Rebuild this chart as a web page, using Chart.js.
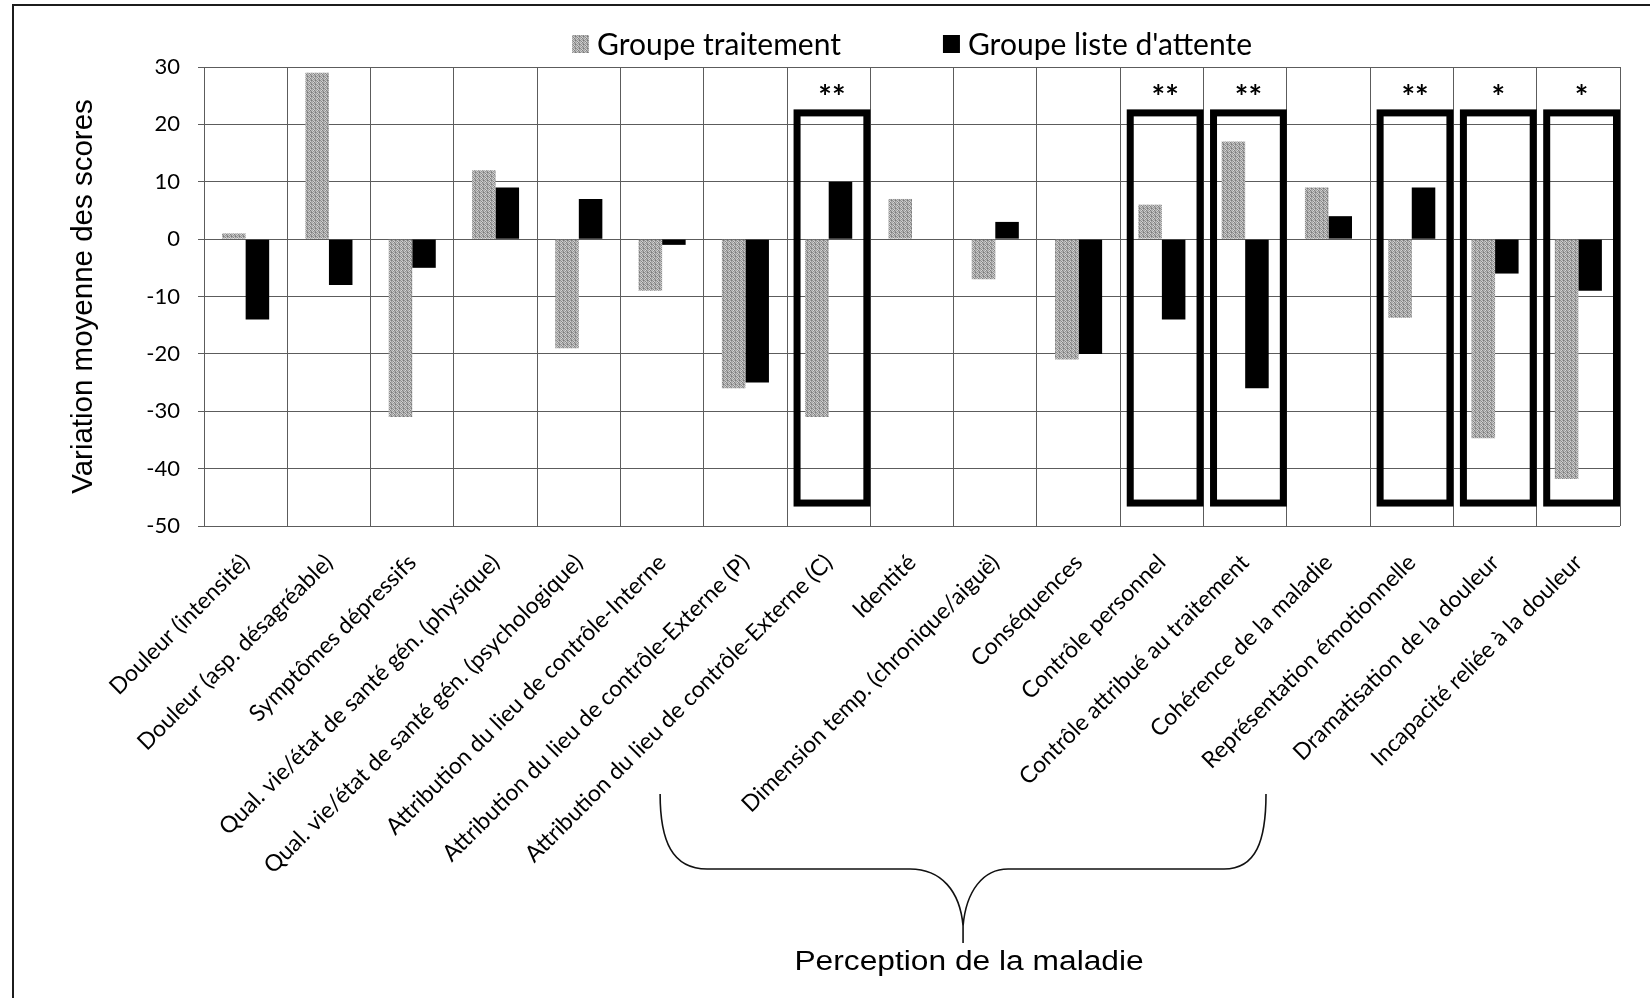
<!DOCTYPE html>
<html>
<head>
<meta charset="utf-8">
<script src="https://cdn.jsdelivr.net/npm/chart.js@4/dist/chart.umd.min.js"></script>
<style>
  html, body { margin: 0; padding: 0; background: #fff; }
  #wrap { width: 1650px; height: 998px; }
</style>
</head>
<body>
<div id="wrap"><canvas id="chart" width="1650" height="998"></canvas></div>
<script>
// Mean score change per measure, for both groups
const categories = [
  'Douleur (intensité)',
  'Douleur (asp. désagréable)',
  'Symptômes dépressifs',
  'Qual. vie/état de santé gén. (physique)',
  'Qual. vie/état de santé gén. (psychologique)',
  'Attribution du lieu de contrôle-Interne',
  'Attribution du lieu de contrôle-Externe (P)',
  'Attribution du lieu de contrôle-Externe (C)',
  'Identité',
  'Dimension temp. (chronique/aiguë)',
  'Conséquences',
  'Contrôle personnel',
  'Contrôle attribué au traitement',
  'Cohérence de la maladie',
  'Représentation émotionnelle',
  'Dramatisation de la douleur',
  'Incapacité reliée à la douleur'
];
const groupeTraitement = [1, 29, -31, 12, -19, -9, -26, -31, 7, -7, -21, 6, 17, 9, -13.7, -34.7, -41.8];
const groupeListeAttente = [-14, -8, -5, 9, 7, -1, -25, 10, 0, 3, -20, -14, -26, 4, 9, -6, -9];
const significance = ['', '', '', '', '', '', '', '**', '', '', '', '**', '**', '', '**', '*', '*'];
const yTickValues = [30, 20, 10, 0, -10, -20, -30, -40, -50];
const seriesNames = ['Groupe traitement', "Groupe liste d'attente"];
const yAxisTitle = 'Variation moyenne des scores';
const groupLabel = 'Perception de la maladie';

// stippled grey fill for the treatment bars
function stipplePattern() {
  const p = document.createElement('canvas');
  p.width = 4; p.height = 4;
  const g = p.getContext('2d');
  const shades = [
    [146, 200, 168, 124],
    [188, 134, 210, 156],
    [164, 214, 128, 182],
    [204, 152, 178, 138]
  ];
  for (let r = 0; r < 4; r++) {
    for (let c = 0; c < 4; c++) {
      const v = shades[r][c];
      g.fillStyle = `rgb(${v},${v},${v})`;
      g.fillRect(c, r, 1, 1);
    }
  }
  return p;
}

const canvas = document.getElementById('chart');
const ctx0 = canvas.getContext('2d');
const greyFill = ctx0.createPattern(stipplePattern(), 'repeat');

const gridColor = '#5c5c5c';

const decor = {
  id: 'decor',
  beforeDraw(chart) {
    const { ctx, width, height } = chart;
    ctx.save();
    ctx.fillStyle = '#fff';
    ctx.fillRect(0, 0, width, height);
    ctx.strokeStyle = '#1c1c1c';
    ctx.lineWidth = 2;
    ctx.beginPath();
    ctx.moveTo(13, height);
    ctx.lineTo(13, 5);
    ctx.lineTo(width, 5);
    ctx.stroke();
    ctx.restore();
  },
  afterDatasetsDraw(chart) {
    const { ctx, scales: { x, y } } = chart;
    const slot = x.width / categories.length;
    const starSize = 32;
    ctx.save();
    significance.forEach((mark, i) => {
      if (!mark) return;
      const c = x.getPixelForValue(i);
      const left = c - slot / 2 + 10;
      const right = c + slot / 2 - 3.5;
      const top = y.getPixelForValue(22);
      const bottom = y.getPixelForValue(-46);
      ctx.lineWidth = 7;
      ctx.strokeStyle = '#000';
      ctx.strokeRect(left, top, right - left, bottom - top);
      ctx.font = `bold ${starSize}px Lato`;
      ctx.textAlign = 'center';
      ctx.textBaseline = 'alphabetic';
      ctx.fillStyle = '#000';
      ctx.fillText(mark, (left + right) / 2, y.getPixelForValue(26) + 0.58 * starSize);
    });
    ctx.restore();
  },
  afterDraw(chart) {
    const { ctx, chartArea, scales: { x, y } } = chart;
    ctx.save();

    // legend row
    ctx.font = '30px Lato';
    const items = chart.data.datasets.map(ds => ({
      label: ds.label,
      fill: ds.backgroundColor,
      w: ctx.measureText(ds.label).width
    }));
    const box = 17, gap = 8, between = 102;
    const total = items.reduce((s, it) => s + box + gap + it.w, 0) + between * (items.length - 1);
    let lx = (chartArea.left + chartArea.right) / 2 - total / 2;
    const ly = 44;
    items.forEach(it => {
      ctx.fillStyle = it.fill;
      ctx.fillRect(lx, ly - 9, box, 18);
      ctx.fillStyle = '#000';
      ctx.textAlign = 'left';
      ctx.textBaseline = 'middle';
      ctx.fillText(it.label, lx + box + gap, ly + 1);
      lx += box + gap + it.w + between;
    });

    // brace grouping the illness-perception measures
    const xL = x.getPixelForValue(5) - 2;
    const xR = x.getPixelForValue(12.25);
    const xM = (xL + xR) / 2;
    const b = y.bottom;
    const yTop = b + 268, yMid = b + 343, yTip = b + 400, yEnd = b + 417;
    ctx.strokeStyle = '#111';
    ctx.lineWidth = 1.6;
    ctx.beginPath();
    ctx.moveTo(xL, yTop);
    ctx.bezierCurveTo(xL, yMid - 28, xL + 12, yMid, xL + 47, yMid);
    ctx.lineTo(xM - 53, yMid);
    ctx.bezierCurveTo(xM - 22, yMid, xM - 3, yMid + 22, xM, yTip);
    ctx.bezierCurveTo(xM + 3, yMid + 22, xM + 20, yMid, xM + 45, yMid);
    ctx.lineTo(xR - 42, yMid);
    ctx.bezierCurveTo(xR - 10, yMid, xR, yMid - 28, xR, yTop);
    ctx.moveTo(xM, yTip);
    ctx.lineTo(xM, yEnd);
    ctx.stroke();

    ctx.fillStyle = '#000';
    ctx.font = '27px "Liberation Sans"';
    ctx.textAlign = 'center';
    ctx.textBaseline = 'alphabetic';
    ctx.translate(xM + 6, b + 444);
    ctx.scale(1.175, 1);
    ctx.fillText(groupLabel, 0, 0);
    ctx.restore();
  }
};

new Chart(canvas, {
  type: 'bar',
  data: {
    labels: categories,
    datasets: [
      { label: seriesNames[0], data: groupeTraitement, backgroundColor: greyFill, borderWidth: 0 },
      { label: seriesNames[1], data: groupeListeAttente, backgroundColor: '#000', borderWidth: 0 }
    ]
  },
  options: {
    responsive: false,
    devicePixelRatio: 1,
    animation: false,
    layout: { padding: { top: 67, left: 0, right: 30, bottom: 0 } },
    datasets: { bar: { categoryPercentage: 0.565, barPercentage: 1 } },
    plugins: {
      legend: { display: false },
      tooltip: { enabled: false }
    },
    scales: {
      x: {
        offset: true,
        grid: { offset: true, color: gridColor, lineWidth: 1, drawTicks: false, borderDash: [3, 1], dash: [3, 1] },
        border: { display: false },
        ticks: {
          autoSkip: false,
          minRotation: 45,
          maxRotation: 45,
          padding: 23,
          color: '#000',
          font: { family: 'Lato', size: 23 }
        },
        afterFit(scale) { scale.height = 472; }
      },
      y: {
        min: -50,
        max: 30,
        afterBuildTicks(scale) { scale.ticks = yTickValues.map(v => ({ value: v })); },
        grid: { color: gridColor, lineWidth: 1, tickLength: 6, borderDash: [3, 1], dash: [3, 1] },
        border: { display: false },
        ticks: {
          padding: 18,
          color: '#000',
          font: { family: 'Lato', size: 22 }
        },
        title: {
          display: true,
          text: yAxisTitle,
          color: '#000',
          font: { family: 'Liberation Sans', size: 29.5 },
          padding: { top: 66, bottom: 0 }
        },
        afterFit(scale) { scale.width = 204; }
      }
    }
  },
  plugins: [decor]
});
</script>
</body>
</html>
